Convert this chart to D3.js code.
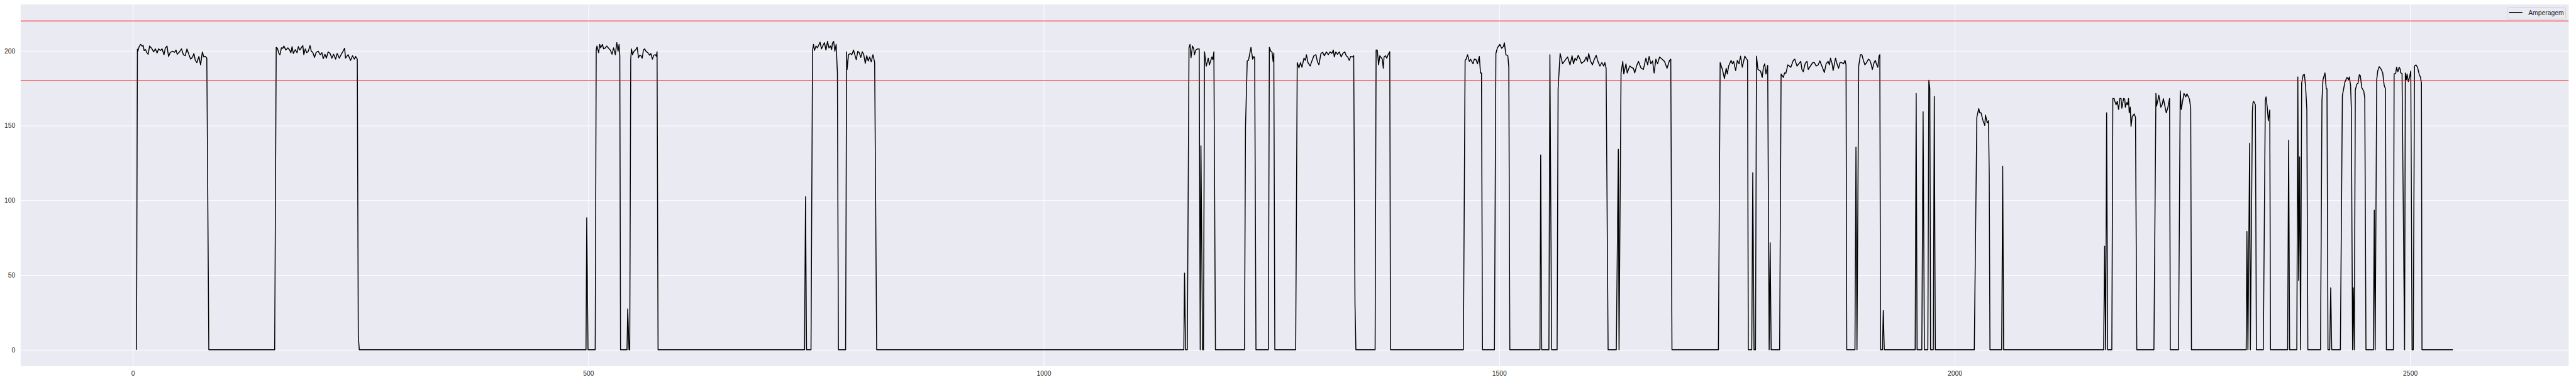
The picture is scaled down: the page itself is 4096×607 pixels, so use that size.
<!DOCTYPE html>
<html>
<head>
<meta charset="utf-8">
<script src="https://cdn.jsdelivr.net/npm/d3@7"></script>
<style>
  html, body { margin: 0; padding: 0; background: #ffffff; }
  svg { display: block; }
</style>
</head>
<body>
<div id="chart"></div>
<script>
// ---------------- DATA ----------------
const seriesName = "Amperagem";
const limitLines = [220, 180];
const xTickValues = [0, 500, 1000, 1500, 2000, 2500];
const yTickValues = [0, 50, 100, 150, 200];

// [sample index, amperage]
const amperagemReadings = [
  [4,0],[5,201],[5.3,199.3],[6.9,202.8],[8.6,204.3],[10.2,203.1],[11.3,203.6],[12.4,200.2],[14,200.8],[15.1,199],[16.8,197.7],
  [18.4,203.2],[20.6,201.7],[22.8,199.3],[24.7,201.3],[26.6,198.5],[28.2,201.3],[30.2,200.2],[32.1,201.3],[34.2,197.4],[35.6,201.7],
  [37.5,203.2],[39.2,196.2],[41.1,199],[43.8,199.7],[45.7,199],[47.4,200.5],[48.7,197.7],[51.2,199.3],[53.4,201.3],[55.5,197.4],
  [57.5,196.7],[59.4,201.3],[61.6,197.4],[63.5,194.4],[65.6,195.9],[67,198.2],[68.6,193.6],[70.3,192.1],[72.5,196.2],[74.4,190.6],
  [76.3,199.3],[77.9,195.9],[79.6,196.2],[81.2,195.1],[83.4,0],
  [155.7,0],[157.4,202.3],[158.7,201.7],[160.4,198.2],[161.5,197.4],[163.1,202],[164.7,201.7],[165.8,203.2],[168,200.5],[170.2,202],
  [172.1,200.5],[173.5,198.7],[174.8,202.8],[176.2,198.2],[178.4,200.8],[180.3,198.7],[181.7,202.8],[183.3,200.5],[184.9,202],[186.6,203.5],
  [187.7,197.4],[189.3,201.3],[190.9,198.7],[192.6,199.7],[194.5,203.5],[195.9,199.7],[197.5,199],[199.4,195.6],[201.3,199],[203.5,199.7],
  [205.7,197.4],[207.6,198.7],[209,194.7],[210.9,197.7],[212.5,195.1],[214.4,199.3],[216.6,198.2],[218.5,195.1],[220.4,197.7],[222.6,194.4],
  [224.3,198.2],[226.7,195.1],[228.6,197.4],[230.8,199.7],[232.5,201.7],[233.5,195.1],[236.3,197.4],[239,193.6],[241.2,196.7],[243.1,194.4],
  [244.5,196.2],[246.4,194.4],[247.5,9],[248.6,0],
  [497.5,0],[498.3,88.3],[499.7,0],[507.6,0],
  [508.7,200.5],[509.5,203.2],[511.4,198.7],[512.5,204.3],[513.6,202],[515.5,204.3],[516.8,201.3],[518.8,202],[520.4,203.2],[522.3,201.7],
  [524.2,200.5],[526.1,197.7],[527.8,202],[529.7,197.4],[531.3,205.5],[532.7,199.7],[533.8,204.3],[534.6,196.7],[535.4,0],
  [542.5,0],[543.3,27.3],[544.7,0],[545.5,0],
  [546.6,194.4],[547.4,201.3],[548.5,197.4],[550.2,199.7],[551.8,200.5],[553.7,202.3],[555.1,195.4],[556.4,197],[557.8,196.7],[559.2,195.1],
  [560.5,200.5],[561.9,201.3],[563.3,199.7],[565.4,198.7],[567.4,197],[568.7,198.2],[570.4,194.4],[572,197.1],[573.6,197.4],[574.7,196.4],
  [575.5,199.4],[576.6,0],
  [737.4,0],[738.5,102.4],[739.6,0],[744.5,0],
  [746.2,200.5],[747.3,204.3],[748.3,200.2],[750,203.2],[751.6,202],[753,203.8],[754.4,205.8],[756,201.3],[757.6,203.5],[759.3,205.4],
  [760.9,200.5],[762.6,206.3],[764.2,202],[765.8,203.2],[767.2,200.8],[768,205.1],[769.4,206.3],[770.7,199.7],[772.1,204.3],[773.5,185.2],
  [774.6,0],[782.5,0],
  [783.6,199.4],[784.1,187.5],[785.7,197.4],[787.7,198.2],[789.3,197.4],[791.2,200.5],[792.6,197.4],[794.2,194.1],[795.9,199.7],[797.5,198.7],
  [799.2,195.6],[800.8,199.4],[802.4,197.4],[804.1,191.6],[805.7,196.7],[807.3,193.2],[809,195.9],[810.6,192.6],[812.5,197.4],[814.4,192.1],
  [816.6,0],
  [1153.8,0],[1154.6,51.3],[1155.7,0],[1157.6,0],
  [1159.5,202],[1160.6,204.3],[1161.7,195.4],[1163.3,203.2],[1164.7,201.3],[1165.5,197.4],[1166.9,200.5],[1168.8,201.3],[1170.7,201.3],
  [1171.8,0],[1172.6,136.4],[1174.4,0],[1175.4,0],
  [1176.5,199.4],[1178.4,189.8],[1180.6,195.1],[1181.9,190.6],[1184.6,195.9],[1185.7,194.1],[1186.8,199.4],[1188.5,0],
  [1220.4,0],[1221.5,148.6],[1223.4,193.2],[1224.8,193.6],[1227.5,202.3],[1229.4,194.4],[1230.8,196.2],[1231.6,195.1],[1233,0],
  [1246.6,0],[1247.7,202.3],[1249.4,199.7],[1250.7,199],[1251.8,192.9],[1252.6,198.5],[1253.7,0],
  [1276.6,0],
  [1278.3,192.1],[1280.2,188.6],[1281.9,192.1],[1283.5,189],[1285.7,195.1],[1287.3,193.6],[1288.4,197.4],[1290.1,192.1],[1292.5,189.8],[1294.4,193.2],
  [1296.6,196.7],[1298.8,197.4],[1300.4,192.9],[1302.1,190.6],[1304.3,198.2],[1306.2,199],[1308.1,196.7],[1310.3,199.3],[1312.4,197.4],[1314.4,199.3],
  [1316.3,198.2],[1317.9,200.5],[1319,195.9],[1320.6,199.3],[1322.5,197.7],[1324.5,199.3],[1326.6,195.9],[1328.3,198.2],[1330.5,199.3],[1332.1,196.7],
  [1333.7,195.9],[1335.4,193.6],[1337,196.2],[1338.9,195.9],[1340.3,196.7],[1341.7,31.1],[1342.7,0],
  [1363.8,0],[1364.9,200.5],[1366.2,200.5],[1367.6,190.6],[1369,196.7],[1371.7,194.4],[1372.8,188.3],[1373.6,195.9],[1375.2,196.7],[1376.6,195.1],
  [1378,197.4],[1379.9,199.4],[1380.7,0],
  [1460.7,0],[1462.6,193.6],[1463.7,194.4],[1465.3,197.4],[1467.2,192.9],[1468.6,194.4],[1471.3,191.3],[1472.7,194.4],[1474.6,194.1],[1476.2,191.3],
  [1478.2,196.2],[1479.5,185.2],[1480.6,185.2],[1481.7,0],
  [1494.8,0],[1496.4,198.2],[1498.1,202],[1500.8,204.3],[1502.7,201.7],[1504.6,202.8],[1505.7,205.4],[1507.4,197.4],[1509.5,196.7],[1510.6,189],[1511.7,0],
  [1544.8,0],[1545.6,130.3],[1546.7,0],[1554.6,0],[1555.7,197.4],[1557.6,0],[1563.6,0],
  [1564.7,174.6],[1566.9,198.2],[1569.6,191.3],[1572.3,193.6],[1575.1,195.9],[1577.8,190.6],[1580,196.7],[1581.6,191.3],[1583.3,195.1],[1584.9,193.6],
  [1586.8,197],[1588.7,194.4],[1590.4,191.6],[1591.5,192.1],[1593.6,193.2],[1595.5,195.9],[1596.9,192.9],[1598.3,198.2],[1600.2,193.2],[1602.4,190.6],
  [1604,193.6],[1606.5,197],[1608.4,192.9],[1610.6,189.8],[1612.7,192.1],[1614.7,189.8],[1616,192.1],[1617.4,188.3],[1619.6,0],
  [1628.6,0],[1630.8,134.1],[1631.6,0],
  [1633.8,185.2],[1635.7,192.9],[1636.8,184.5],[1639.2,191.3],[1640.6,185.2],[1643.3,189.8],[1646.1,188.6],[1647.4,188.3],[1648.8,185.2],[1651,190.1],
  [1652.9,192.9],[1655.6,188.6],[1658.3,187.5],[1661.1,195.1],[1663,190.6],[1664.6,196.2],[1666.5,191.3],[1668.4,193.2],[1670.1,185.2],[1672,194.4],
  [1673.9,191.3],[1676.1,195.9],[1678.8,194.4],[1681.5,192.9],[1684.3,188.3],[1687,193.6],[1688.4,194.4],[1689.7,0],
  [1740.7,0],[1742.6,192.1],[1745.1,187.5],[1747.3,181.4],[1749.2,188.3],[1750.5,184.5],[1751.9,189.8],[1754.6,193.6],[1756,191.3],[1757.4,192.9],
  [1759.6,186.8],[1761.5,193.6],[1763.4,191.3],[1765,196.4],[1766.9,189],[1769.7,196.4],[1771,195.1],[1772.7,193.6],[1773.5,0],
  [1777.3,0],[1778.4,118.4],[1779.8,0],[1781.4,0],
  [1782.5,196.4],[1784.1,187.5],[1786.9,186.5],[1788.8,182.2],[1790.1,189],[1791.5,191.3],[1792.9,184.5],[1794.8,190.3],[1796.4,0],
  [1797.5,71.6],[1798.6,0],[1807.9,0],
  [1809.5,184.5],[1812,182.2],[1813.3,185.2],[1814.7,184.9],[1816.9,190.6],[1820.2,189],[1822.9,193.6],[1824.5,194.4],[1827,189.8],[1828.9,191.3],
  [1831.1,192.9],[1832.4,187.5],[1833.8,186],[1836,191.6],[1837.9,192.9],[1839.3,187.5],[1842,190.1],[1844.2,192.1],[1846.1,192.1],[1848,189.8],
  [1850.2,190.6],[1852.1,193.2],[1854.3,189.8],[1857,185.5],[1858.9,191.3],[1861.1,192.9],[1862.5,190.6],[1863.8,195.1],[1865.5,191.3],[1866.6,186.8],
  [1869.3,195.1],[1870.9,191.3],[1872.6,188.3],[1874.2,192.1],[1876.1,192.1],[1878,191.3],[1879.7,193.6],[1880.8,190.6],[1881.6,0],
  [1890.6,0],[1891.7,135.6],[1892.8,0],
  [1894.7,189.8],[1896.6,197.4],[1898.2,197.4],[1899.9,193.6],[1901.5,190.6],[1903.4,192.1],[1905.3,194.4],[1907,193.6],[1908.1,191.6],[1909.7,187.5],
  [1911.6,192.1],[1913,193.6],[1914.3,191],[1915.7,189],[1917.1,196.7],[1917.9,197.4],[1918.7,0],
  [1920.8,0],[1921.7,26.2],[1922.8,0],
  [1956.7,0],[1957.8,171.5],[1958.8,0],[1964,0],[1965.4,159.3],[1966.8,0],[1970.6,0],[1971.7,180.3],[1972.8,174.6],[1973.6,0],
  [1976.6,0],[1977.7,169.5],[1978.8,0],
  [2021.6,0],[2024.4,155.5],[2026.5,161.4],[2027.6,158.5],[2029,158.5],[2031.2,153.2],[2033.1,150.1],[2033.9,157],[2035.8,151.7],[2037.2,153.2],
  [2038,118.1],[2038.8,0],
  [2051.7,0],[2052.8,122.7],[2053.8,0],
  [2163.6,0],[2164.7,69.3],[2165.8,0],[2166.9,158.5],[2168,0],[2172.6,0],
  [2173.7,168.1],[2175.1,168.1],[2175.9,166.2],[2177.3,163.9],[2178.6,166.2],[2180,160.8],[2181.4,168.1],[2182.7,168.1],[2183.6,161.6],[2185.5,168.1],
  [2186.8,167.7],[2187.4,162.3],[2189,165.4],[2190.1,163.9],[2190.9,168.1],[2191.7,158.5],[2192.8,162.3],[2193.7,149.4],[2195,156.2],[2196.4,157],
  [2197.2,157.8],[2198.6,155.5],[2200,0],
  [2218.8,0],[2221,171.5],[2221.8,163.1],[2224.2,170.3],[2226.4,162.3],[2227.8,163.9],[2229.2,168],[2231.1,162.3],[2232.4,158.5],[2234.1,162],
  [2236,168.1],[2236.8,0],
  [2245.8,0],[2247.7,173.3],[2248.8,160.8],[2251.8,171.5],[2253.7,169.2],[2255.1,171.2],[2257.8,167.7],[2259.2,161.6],[2260,0],
  [2320.1,0],[2320.9,79.2],[2322,0],[2323.9,138.2],[2324.7,0],[2326.9,159.3],[2327.5,165],[2328.3,166.2],[2330.2,163.9],[2331.3,0],
  [2338.9,0],[2341.1,166.9],[2341.9,169.2],[2343.3,161.6],[2344.4,153.2],[2346,160.4],[2346.8,0],
  [2365.6,0],[2366.7,140.2],[2367.8,0],[2375.7,0],[2376.8,182.5],[2377.7,46.4],[2378.8,129.1],[2379.8,0],
  [2381,178.4],[2382.6,183.7],[2384,184.2],[2385.3,176.2],[2386.7,160.8],[2387.8,0],
  [2401.7,0],[2403.3,166.9],[2404.4,180.7],[2406.6,185.2],[2408,174.6],[2408.8,174.6],[2409.9,0],[2411.8,0],[2412.9,41.5],[2414,0],
  [2423.5,0],[2425.7,170],[2428.5,179.1],[2430.7,182.2],[2432.5,180.7],[2433.3,182.5],[2434.7,177],[2435.5,162.3],[2436.9,0],
  [2437.7,41.5],[2438.8,0],[2439.9,173.8],[2441.5,177.6],[2442.9,178.4],[2444.3,184],[2445.4,183.4],[2447,175.3],[2449.2,173],[2450.3,168.4],[2451.6,0],
  [2459.8,0],[2460.7,93.4],[2461.7,0],[2463.4,180.7],[2464.5,186.5],[2466.1,189.4],[2468,188],[2470,185.2],[2471.6,176.8],[2473,174.6],[2474,0],
  [2481.7,0],[2482.5,184.5],[2484.2,184.8],[2485.2,189],[2486.6,186],[2488,189],[2489,188],[2489.8,185.2],[2491.2,184.9],[2494,0],
  [2494.8,185.2],[2495.9,180.7],[2496.7,184.5],[2498.1,179.4],[2499.4,182.2],[2500.8,186.5],[2502.2,0],[2503.5,0],
  [2504.9,189.8],[2506.5,190.6],[2508.2,189],[2510.3,183.7],[2511.4,182.5],[2512.5,178.4],[2513.1,0],
  [2547,0]
];

// ---------------- LAYOUT ----------------
const S = 0.747;
const W = 4096, H = 607;
const plot = { left: 44 * S, right: 5467.7 * S, top: 9.5 * S, bottom: 779 * S };
const font = "'Liberation Sans', Arial, Helvetica, sans-serif";
const fontSize = 13.9 * S;
const textColor = "#262626";

const svg = d3.select("#chart").append("svg")
  .attr("width", W).attr("height", H)
  .style("background", "#ffffff");

// x domain: data extent with 5% margins (matplotlib autoscale)
const xExt = d3.extent(amperagemReadings, d => d[0]);
const xPad = 0.05 * (xExt[1] - xExt[0]);
const x = d3.scaleLinear().domain([xExt[0] - xPad, xExt[1] + xPad]).range([plot.left, plot.right]);
// y domain: 0..220 with 5% margins
const yMax = d3.max(limitLines), yMin = 0;
const yPad = 0.05 * (yMax - yMin);
const y = d3.scaleLinear().domain([yMin - yPad, yMax + yPad]).range([plot.bottom, plot.top]);

// background
svg.append("rect")
  .attr("x", plot.left).attr("y", plot.top)
  .attr("width", plot.right - plot.left).attr("height", plot.bottom - plot.top)
  .attr("fill", "#EAEAF2");

// gridlines
const gridX = svg.append("g").attr("transform", `translate(0,${plot.bottom})`)
  .call(d3.axisBottom(x).tickValues(xTickValues).tickSize(-(plot.bottom - plot.top)).tickFormat(""));
const gridY = svg.append("g").attr("transform", `translate(${plot.left},0)`)
  .call(d3.axisLeft(y).tickValues(yTickValues).tickSize(-(plot.right - plot.left)).tickFormat(""));
[gridX, gridY].forEach(g => {
  g.select(".domain").remove();
  g.selectAll("line").attr("stroke", "#ffffff").attr("stroke-width", 1.0);
});

// tick labels
const axX = svg.append("g").attr("transform", `translate(0,${plot.bottom})`)
  .call(d3.axisBottom(x).tickValues(xTickValues).tickSize(0).tickPadding(7.7).tickFormat(d3.format("d")));
const axY = svg.append("g").attr("transform", `translate(${plot.left},0)`)
  .call(d3.axisLeft(y).tickValues(yTickValues).tickSize(0).tickPadding(8.6).tickFormat(d3.format("d")));
[axX, axY].forEach(g => {
  g.select(".domain").remove();
  g.selectAll("line").remove();
  g.selectAll("text").attr("fill", textColor).style("font-family", font).style("font-size", fontSize + "px");
});

// clip
svg.append("defs").append("clipPath").attr("id", "clip")
  .append("rect").attr("x", plot.left).attr("y", plot.top)
  .attr("width", plot.right - plot.left).attr("height", plot.bottom - plot.top);

// series line
const line = d3.line().x(d => x(d[0])).y(d => y(d[1]));
svg.append("path")
  .datum(amperagemReadings)
  .attr("clip-path", "url(#clip)")
  .attr("d", line)
  .attr("fill", "none")
  .attr("stroke", "#000000")
  .attr("stroke-width", 1.5)
  .attr("stroke-linejoin", "round");

// limit lines
svg.append("g").attr("clip-path", "url(#clip)")
  .selectAll("line").data(limitLines).join("line")
  .attr("x1", plot.left).attr("x2", plot.right)
  .attr("y1", d => y(d)).attr("y2", d => y(d))
  .attr("stroke", "#ff0000").attr("stroke-width", 1.05);

// legend
const lg = { x: 5336.7 * S, y: 16 * S, w: (5461.3 - 5336.7) * S, h: (40.7 - 16) * S };
const legend = svg.append("g");
legend.append("rect")
  .attr("x", lg.x).attr("y", lg.y).attr("width", lg.w).attr("height", lg.h)
  .attr("rx", 2).attr("ry", 2)
  .attr("fill", "#EAEAF2").attr("fill-opacity", 0.8)
  .attr("stroke", "#cccccc").attr("stroke-width", 0.8);
legend.append("line")
  .attr("x1", 5340.7 * S).attr("x2", 5369.3 * S)
  .attr("y1", 26.5 * S).attr("y2", 26.5 * S)
  .attr("stroke", "#000000").attr("stroke-width", 1.5);
legend.append("text")
  .attr("x", 5381.7 * S).attr("y", 32.3 * S)
  .attr("fill", textColor)
  .style("font-family", font).style("font-size", fontSize + "px")
  .text(seriesName);
</script>
</body>
</html>
